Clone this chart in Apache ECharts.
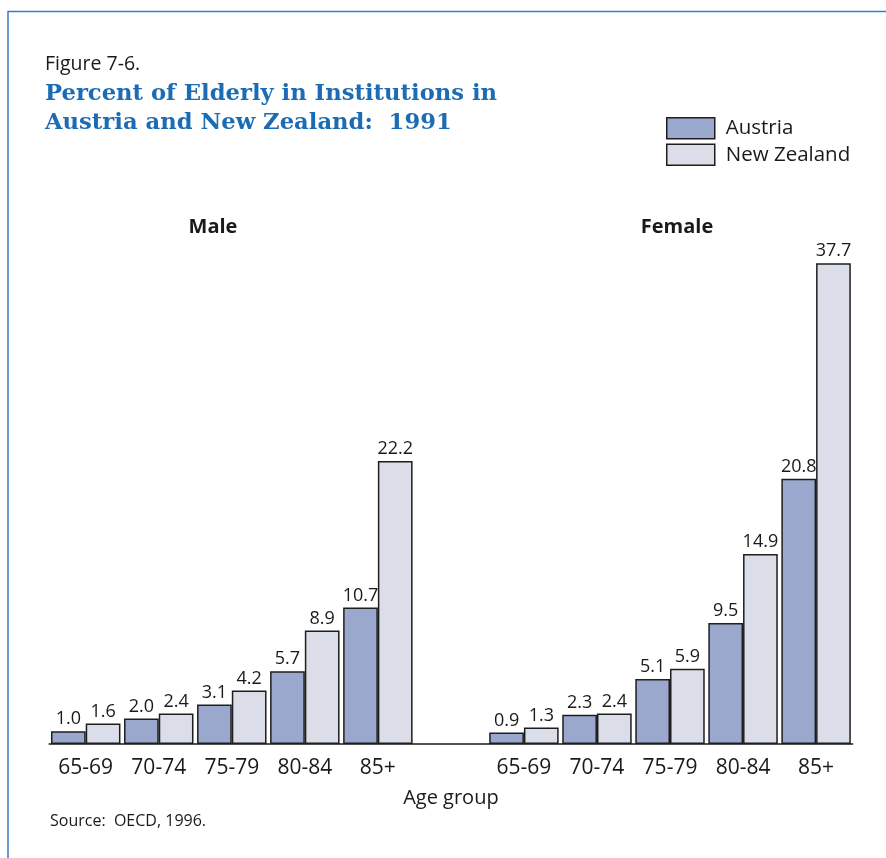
<!DOCTYPE html>
<html>
<head>
<meta charset="utf-8">
<style>
  html, body { margin: 0; padding: 0; background: #ffffff; }
  #chart { width: 886px; height: 858px; }
</style>
<script src="https://cdn.jsdelivr.net/npm/echarts@6/dist/echarts.min.js"></script>
</head>
<body>
<div id="chart"></div>
<script>
// Age groups shared by both panels
const ageGroups = ['65-69', '70-74', '75-79', '80-84', '85+'];

// Percent of elderly living in institutions, 1991
const maleAustria = [1.0, 2.0, 3.1, 5.7, 10.7];
const maleNewZealand = [1.6, 2.4, 4.2, 8.9, 22.2];
const femaleAustria = [0.9, 2.3, 5.1, 9.5, 20.8];
const femaleNewZealand = [1.3, 2.4, 5.9, 14.9, 37.7];

const seriesNames = ['Austria', 'New Zealand'];
const panelTitles = ['Male', 'Female'];

// One category axis: male groups, an empty spacer slot, then female groups
const categories = ageGroups.concat([''], ageGroups);
const austriaData = maleAustria.concat(['-'], femaleAustria);
const newZealandData = maleNewZealand.concat(['-'], femaleNewZealand);

const FONT = '"Open Sans", "Noto Sans", sans-serif';
const barBorder = { borderColor: '#1e1e1e', borderWidth: 1.5 };

const valueLabel = {
  show: true,
  position: 'top',
  distance: 3,
  color: '#1a1a1a',
  fontFamily: FONT,
  fontSize: 18,
  formatter: p => Number(p.value).toFixed(1)
};

const chart = echarts.init(document.getElementById('chart'), null, { renderer: 'canvas' });

chart.setOption({
  backgroundColor: '#ffffff',
  animation: false,
  legend: {
    orient: 'vertical',
    left: 666,
    top: 117,
    padding: 0,
    itemWidth: 48,
    itemHeight: 21,
    itemGap: 4,
    icon: 'rect',
    data: seriesNames,
    itemStyle: barBorder,
    textStyle: { fontFamily: FONT, fontSize: 20.5, color: '#1a1a1a', padding: [0, 0, 0, 6] }
  },
  grid: { left: 49.2, right: 33.4, top: 234, bottom: 114, containLabel: false },
  xAxis: {
    type: 'category',
    data: categories,
    axisLine: { show: true, lineStyle: { color: '#1a1a1a', width: 1.5 } },
    axisTick: { show: false },
    axisLabel: { interval: 0, margin: 14, color: '#1a1a1a', fontFamily: FONT, fontSize: 21 },
    name: 'Age group',
    nameLocation: 'middle',
    nameGap: 44,
    nameTextStyle: { fontFamily: FONT, fontSize: 20, color: '#1a1a1a' }
  },
  yAxis: { type: 'value', min: 0, max: 40, show: false },
  series: [
    {
      name: seriesNames[0], type: 'bar', data: austriaData,
      barGap: '0%', barCategoryGap: '4.9%',
      itemStyle: Object.assign({ color: '#99a8cc' }, barBorder),
      label: valueLabel
    },
    {
      name: seriesNames[1], type: 'bar', data: newZealandData,
      barGap: '0%', barCategoryGap: '4.9%',
      itemStyle: Object.assign({ color: '#dbdee9' }, barBorder),
      label: valueLabel
    }
  ],
  graphic: [
    { type: 'polyline', shape: { points: [[8, 858], [8, 11.5], [886, 11.5]] },
      style: { stroke: '#3a7cc2', lineWidth: 1.5, fill: null } },
    { type: 'text', left: 45, top: 54,
      style: { text: 'Figure 7-6.', font: '19.5px ' + FONT, fill: '#1a1a1a' } },
    { type: 'text', left: 45, top: 80,
      style: { text: 'Percent of Elderly in Institutions in\nAustria and New Zealand:  1991',
        font: 'bold 22.7px "DejaVu Serif", serif', lineHeight: 29, fill: '#1b6cb4' } },
    { type: 'text', x: 213, y: 227,
      style: { text: panelTitles[0], font: 'bold 20px ' + FONT, fill: '#1a1a1a', align: 'center', verticalAlign: 'middle' } },
    { type: 'text', x: 677, y: 227,
      style: { text: panelTitles[1], font: 'bold 20px ' + FONT, fill: '#1a1a1a', align: 'center', verticalAlign: 'middle' } },
    { type: 'text', left: 50, top: 813,
      style: { text: 'Source:  OECD, 1996.', font: '16px ' + FONT, fill: '#1a1a1a' } }
  ]
});
</script>
</body>
</html>
